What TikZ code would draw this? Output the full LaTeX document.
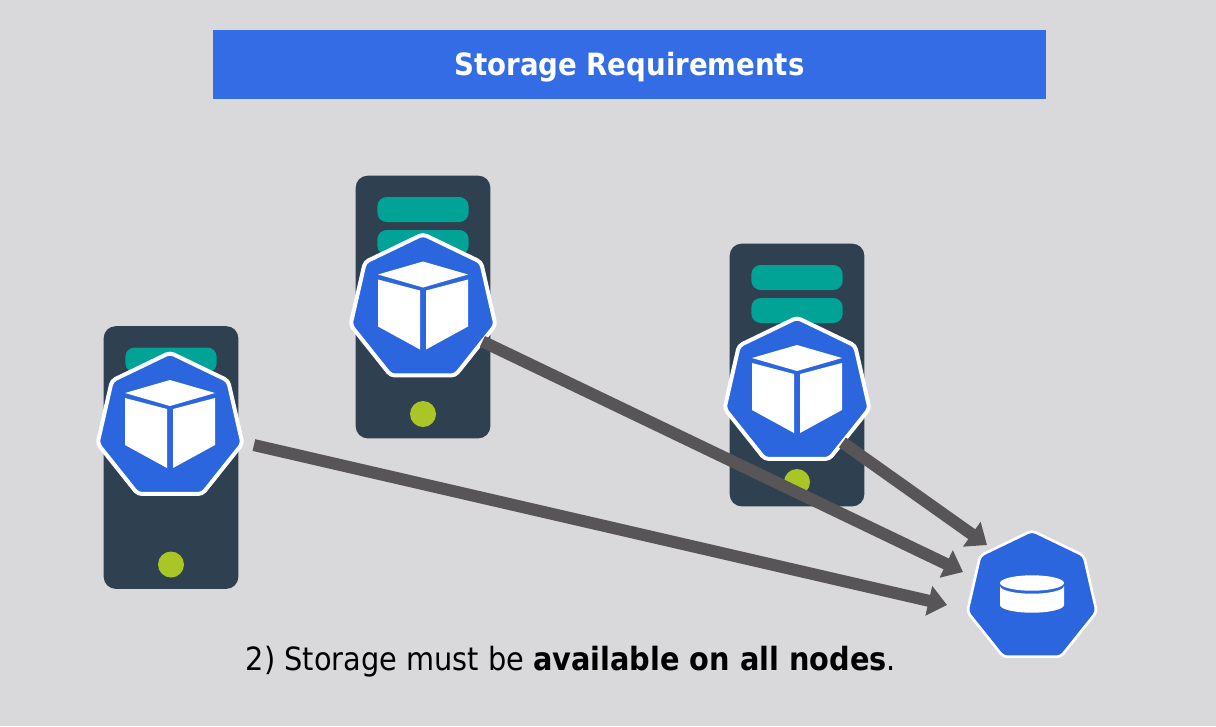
\documentclass[tikz,border=0pt]{standalone}
\usepackage{fontspec}
\setmainfont{DejaVu Sans Condensed}
\usetikzlibrary{positioning,shapes.geometric,arrows.meta}

\definecolor{slidebg}{HTML}{D9D8DB}
\definecolor{titleblue}{HTML}{336CE4}
\definecolor{podblue}{HTML}{2B66DF}
\definecolor{serverdark}{HTML}{2F4050}
\definecolor{barteal}{HTML}{00A395}
\definecolor{ledgreen}{HTML}{A9C526}
\definecolor{flowgray}{HTML}{575557}

\tikzset{
    server/.style={draw=none, fill=serverdark, rectangle, rounded corners=9pt, minimum width=101pt, minimum height=197pt, outer sep=0pt},
    bar/.style={draw=none, fill=barteal, rectangle, rounded corners=7pt, minimum width=68.5pt, minimum height=18.75pt, outer sep=0pt},
    led/.style={draw=none, fill=ledgreen, circle, minimum size=19.5pt, inner sep=0pt, outer sep=0pt},
    pod/.style={draw=white, line width=3pt, fill=podblue, regular polygon, regular polygon sides=7, rounded corners=3pt, minimum size=111.5pt, inner sep=0pt, outer sep=0pt},
    volume/.style={pod, line width=2pt, minimum size=99.5pt},
    flow/.style={draw=flowgray, line width=9pt, -{Triangle[length=14pt,width=22pt]}},
    pics/cube/.style={code={
        \fill[white] (0,-47) -- (45,-34) -- (0,-21) -- (-45,-34) -- cycle;
        \fill[white] (-45,-29) -- (-3,-18) -- (-3,41) -- (-45,18) -- cycle;
        \fill[white] (45,-29) -- (3,-18) -- (3,41) -- (45,18) -- cycle;
    }},
    pics/drum/.style={code={
        \fill[white] (0,-11) ellipse [x radius=32, y radius=7.7];
        \fill[white] (-32,-8) arc[start angle=180, end angle=0, x radius=32, y radius=7.7] -- (32,11) arc[start angle=0, end angle=180, x radius=32, y radius=7.7] -- cycle;
    }},
}

\begin{document}
\begin{tikzpicture}[x=0.75pt,y=-0.75pt,>=stealth]
    \fill[slidebg] (0,0) rectangle (1216,726);

    \node (title) [fill=titleblue, text=white, minimum width=625pt, minimum height=52pt, inner sep=0pt, outer sep=0pt, text height=22pt, text depth=5pt, font=\fontsize{23pt}{28pt}\selectfont\bfseries] at (629.5,64.5) {Storage Requirements};

    \node (server1) [server] at (171,457.5) {};
    \node (bar1a) [bar, below=16pt of server1.north] {};
    \node (led1) [led, above=8.5pt of server1.south] {};

    \node (server2) [server] at (423,307) {};
    \node (bar2a) [bar, below=16pt of server2.north] {};
    \node (bar2b) [bar, below=6pt of bar2a] {};
    \node (led2) [led, above=8.5pt of server2.south] {};

    \node (server3) [server] at (797,375) {};
    \node (bar3a) [bar, below=16pt of server3.north] {};
    \node (bar3b) [bar, below=6pt of bar3a] {};
    \node (led3) [led, above=8.5pt of server3.south] {};

    \node (pod1) [pod] at (170,427) {};
    \node (pod2) [pod] at (423,308.5) {};
    \node (pod3) [pod] at (797,392) {};
    \pic at (pod1) {cube};
    \pic at (pod2) {cube};
    \pic at (pod3) {cube};

    \node (store) [volume] at (1032,597) {};
    \pic at (1032,594) {drum};

    \coordinate (in1) at (947,605);
    \coordinate (in2) at (963,572);
    \coordinate (in3) at (987,545);

    \draw[flow, shorten <=9pt] (pod1.-12) -- (in1);
    \draw[flow] (pod2.-29) -- (in2);
    \draw[flow] (pod3.-48) -- (in3);

    \node (caption) [font=\fontsize{24pt}{30pt}\selectfont, inner sep=0pt] at (571,662) {2) Storage must be \textbf{available on all nodes}.};
\end{tikzpicture}
\end{document}
